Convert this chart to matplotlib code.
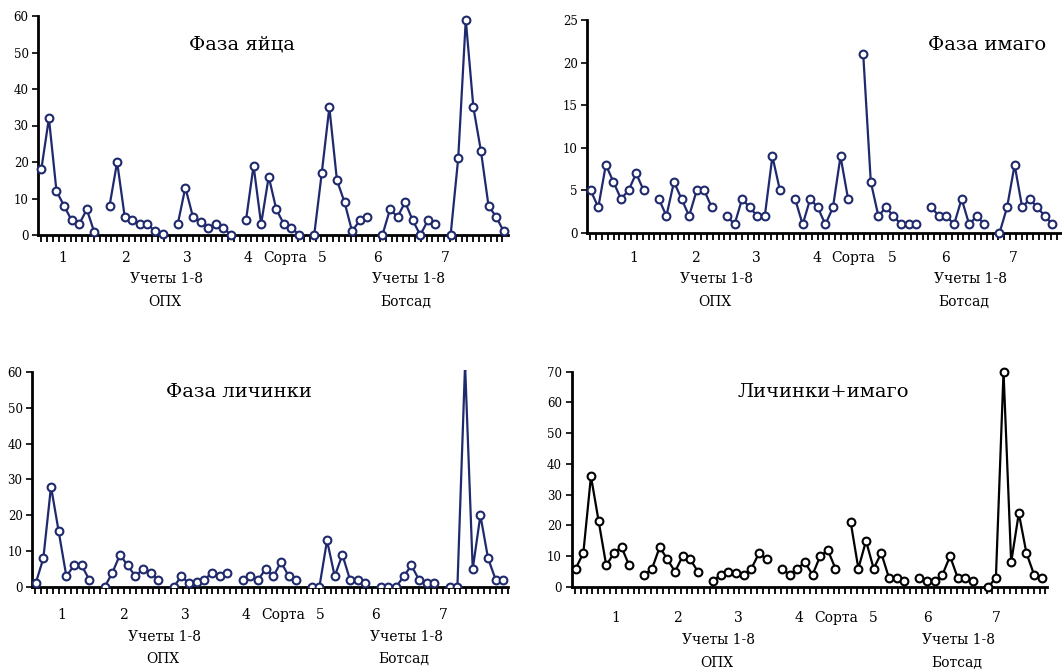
import numpy as np
import matplotlib
matplotlib.use("Agg")
import matplotlib.pyplot as plt

plt.rcParams['font.family'] = ['DejaVu Serif']

# 7 sorts x 8 counts per panel
egg = [
    [18, 32, 12, 8, 4, 3, 7, 0.7],
    [8, 20, 5, 4, 3, 3, 1, 0.4],
    [3, 13, 5, 3.5, 2, 3, 2, 0],
    [4, 19, 3, 16, 7, 3, 2, 0],
    [0, 17, 35, 15, 9, 1, 4, 5],
    [0, 7, 5, 9, 4, 0, 4, 3],
    [0, 21, 59, 35, 23, 8, 5, 1],
]
imago = [
    [5, 3, 8, 6, 4, 5, 7, 5],
    [4, 2, 6, 4, 2, 5, 5, 3],
    [2, 1, 4, 3, 2, 2, 9, 5],
    [4, 1, 4, 3, 1, 3, 9, 4],
    [21, 6, 2, 3, 2, 1, 1, 1],
    [3, 2, 2, 1, 4, 1, 2, 1],
    [0, 3, 8, 3, 4, 3, 2, 1],
]
larva = [
    [1, 8, 28, 15.5, 3, 6, 6, 2],
    [0, 4, 9, 6, 3, 5, 4, 2],
    [0, 3, 1, 1.5, 2, 4, 3, 4],
    [2, 3, 2, 5, 3, 7, 3, 2],
    [0, 0, 13, 3, 9, 2, 2, 1],
    [0, 0, 0, 3, 6, 2, 1, 1],
    [0, 0, 62, 5, 20, 8, 2, 2],
]
both = [
    [6, 11, 36, 21.5, 7, 11, 13, 7],
    [4, 6, 13, 9, 5, 10, 9, 5],
    [2, 4, 5, 4.5, 4, 6, 11, 9],
    [6, 4, 6, 8, 4, 10, 12, 6],
    [21, 6, 15, 6, 11, 3, 3, 2],
    [3, 2, 2, 4, 10, 3, 3, 2],
    [0, 3, 70, 8, 24, 11, 4, 3],
]
titles = ["Фаза яйца", "Фаза имаго", "Фаза личинки", "Личинки+имаго"]
sorts = ["1", "2", "3", "4", "5", "6", "7"]

W, H = 1062, 669
fig = plt.figure(figsize=(W / 100, H / 100), dpi=100)

navy = '#1f2a6e'

# pixel layout: left, right, y0 pixel, ytop pixel
panels = [
    dict(data=egg, box=(38.3, 508, 235, 16), xlim=(-0.40, 61.57), ylim=(0, 60), yt=10,
         color=navy, title=(242, 45), clip=False,
         lab_x=[63, 125, 187, 248, 322, 377, 445], sorta=285, lab_y=258,
         uch=[(167, 408), 279], site=[(165, 406), 302]),
    dict(data=imago, box=(587.3, 1062, 233, 20), xlim=(-0.45, 62.26), ylim=(0, 25), yt=5,
         color=navy, title=(987, 45), clip=False,
         lab_x=[634, 695, 756, 817, 892, 946, 1013], sorta=853, lab_y=258,
         uch=[(717, 971), 279], site=[(715, 964), 302]),
    dict(data=larva, box=(32.3, 508, 587, 369.7), xlim=(-0.44, 61.6), ylim=(0, 60.6), yt=10,
         ymax=60, color=navy, title=(239, 392), clip=True,
         lab_x=[62, 123, 185, 246, 320, 376, 443], sorta=283, lab_y=615,
         uch=[(165, 406), 637], site=[(163, 404), 659]),
    dict(data=both, box=(571.7, 1046.7, 587, 371.7), xlim=(-0.52, 61.65), ylim=(0, 70), yt=10,
         color='black', title=(823, 392), clip=False,
         lab_x=[616, 677, 738, 799, 873, 928, 996], sorta=836, lab_y=618,
         uch=[(718, 959), 640], site=[(717, 957), 663]),
]

for p, title in zip(panels, titles):
    l, r, y0, yt = p['box']
    ax = fig.add_axes([l / W, 1 - y0 / H, (r - l) / W, (y0 - yt) / H])
    for g, vals in enumerate(p['data']):
        xs = np.arange(len(vals)) + g * 9
        ax.plot(xs, vals, color=p['color'], lw=1.6, marker='o', ms=5.6,
                mfc='white', mec=p['color'], mew=1.5, clip_on=p['clip'], zorder=3)
    ax.set_xlim(*p['xlim'])
    ax.set_ylim(*p['ylim'])
    ymax = p.get('ymax', p['ylim'][1])
    for s in ['top', 'right']:
        ax.spines[s].set_visible(False)
    ax.spines['left'].set_linewidth(2)
    ax.spines['bottom'].set_linewidth(2)
    ax.spines['left'].set_bounds(0, ymax)
    ax.set_yticks(np.arange(0, ymax + 0.1, p['yt']))
    ax.tick_params(axis='y', length=4, width=1.2, labelsize=8.5, pad=3)
    ax.set_xticks(np.arange(p['xlim'][0] + 0.4, p['xlim'][1], 0.77))
    ax.tick_params(axis='x', length=5, width=1.3, labelbottom=False)
    ax.patch.set_alpha(0)

    fig.text(p['title'][0] / W, 1 - p['title'][1] / H, title, fontsize=14,
             ha='center', va='center')
    for lx, s in zip(p['lab_x'], sorts):
        fig.text(lx / W, 1 - p['lab_y'] / H, s, fontsize=10, ha='center', va='center')
    fig.text(p['sorta'] / W, 1 - p['lab_y'] / H, "Сорта", fontsize=10, ha='center', va='center')
    for ux in p['uch'][0]:
        fig.text(ux / W, 1 - p['uch'][1] / H, "Учеты 1-8", fontsize=10, ha='center', va='center')
    for sx, name in zip(p['site'][0], ["ОПХ", "Ботсад"]):
        fig.text(sx / W, 1 - p['site'][1] / H, name, fontsize=10, ha='center', va='center')

fig.savefig("out.png", dpi=100)
